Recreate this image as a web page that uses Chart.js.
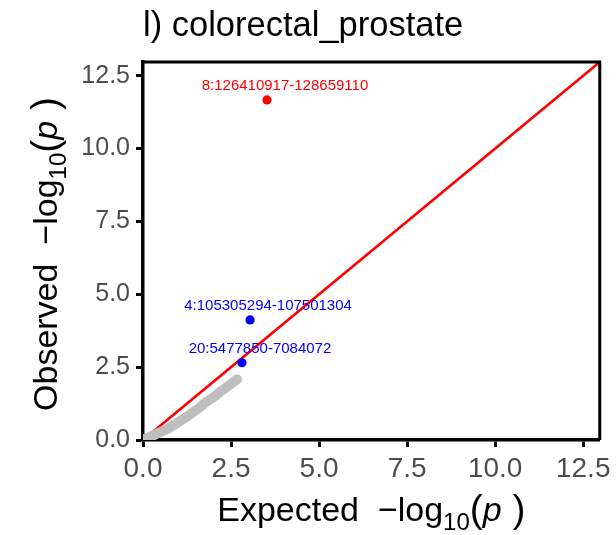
<!DOCTYPE html>
<html>
<head>
<meta charset="utf-8">
<script src="https://cdn.jsdelivr.net/npm/chart.js@4.4.1/dist/chart.umd.min.js"></script>
<style>
  html, body { margin: 0; padding: 0; background: #ffffff; }
  #wrap { width: 616px; height: 535px; }
</style>
</head>
<body>
<div id="wrap"><canvas id="c" width="616" height="535"></canvas></div>
<script>
// ---- data ----
const chartTitle = 'l) colorectal_prostate';
const tickValues = [0, 2.5, 5, 7.5, 10, 12.5];
const axisMax = 12.97;

// background (non-highlighted) points: expected vs observed -log10(p)
const qqExpected = [0.01, 0.03, 0.06, 0.10, 0.15, 0.20, 0.25, 0.30, 0.36, 0.42, 0.48, 0.55, 0.62, 0.70,
  0.78, 0.86, 0.94, 1.02, 1.10, 1.18, 1.26, 1.34, 1.42, 1.50, 1.58, 1.66, 1.74, 1.82, 1.90, 1.98,
  2.06, 2.14, 2.22, 2.30, 2.38, 2.46, 2.54, 2.62, 2.67];
const qqObserved = [0.01, 0.02, 0.04, 0.06, 0.08, 0.11, 0.13, 0.16, 0.19, 0.23, 0.26, 0.30, 0.34, 0.39,
  0.44, 0.50, 0.56, 0.63, 0.69, 0.75, 0.81, 0.88, 0.95, 1.02, 1.09, 1.17, 1.25, 1.32, 1.39, 1.45,
  1.52, 1.60, 1.68, 1.75, 1.82, 1.89, 1.96, 2.03, 2.08];

// highlighted regions
const hitLabels = ['8:126410917-128659110', '4:105305294-107501304', '20:5477850-7084072'];
const hitExpected = [3.52, 3.04, 2.81];
const hitObserved = [11.67, 4.12, 2.65];
const hitGenomeWide = [true, false, false];

// ---- styles ----
const FONT = "'Liberation Sans', Arial, sans-serif";
const RED = '#ff0000', BLUE = '#0000ff', GREY = '#bebebe';

const toXY = (xs, ys) => xs.map((x, i) => ({ x: x, y: ys[i] }));
const hitPts = toXY(hitExpected, hitObserved);
const redPts = hitPts.filter((p, i) => hitGenomeWide[i]);
const bluePts = hitPts.filter((p, i) => !hitGenomeWide[i]);

function drawMathLabel(ctx, prefix, size) {
  const parts = [
    { t: prefix + '\u2212log', f: size + 'px ' + FONT, dy: 0 },
    { t: '10', f: Math.round(size * 0.7) + 'px ' + FONT, dy: size * 0.27 },
    { t: '(', f: Math.round(size * 1.15) + 'px ' + FONT, dy: size * 0.02 },
    { t: 'p', f: 'italic ' + size + 'px ' + FONT, dy: 0 },
    { t: ' )', f: Math.round(size * 1.15) + 'px ' + FONT, dy: size * 0.02 }
  ];
  let total = 0;
  parts.forEach(p => { ctx.font = p.f; p.w = ctx.measureText(p.t).width; total += p.w; });
  let x = -total / 2;
  ctx.textAlign = 'left';
  ctx.textBaseline = 'alphabetic';
  parts.forEach(p => { ctx.font = p.f; ctx.fillText(p.t, x, p.dy); x += p.w; });
}

const decorPlugin = {
  id: 'decor',
  afterDraw(chart) {
    const ctx = chart.ctx, a = chart.chartArea;
    ctx.save();
    // panel frame (top / right)
    ctx.strokeStyle = '#000';
    ctx.lineWidth = 3;
    ctx.beginPath();
    ctx.moveTo(a.left, a.top); ctx.lineTo(a.right, a.top); ctx.lineTo(a.right, a.bottom);
    ctx.stroke();
    // title
    ctx.fillStyle = '#000';
    ctx.font = '34.5px ' + FONT;
    ctx.textAlign = 'left';
    ctx.textBaseline = 'alphabetic';
    ctx.fillText(chartTitle, a.left, 36);
    // x title
    ctx.save();
    ctx.translate((a.left + a.right) / 2, 521);
    drawMathLabel(ctx, 'Expected  ', 34);
    ctx.restore();
    // y title
    ctx.save();
    ctx.translate(57, (a.top + a.bottom) / 2 + 3);
    ctx.rotate(-Math.PI / 2);
    drawMathLabel(ctx, 'Observed  ', 34);
    ctx.restore();
    // point labels
    const xs = chart.scales.x, ys = chart.scales.y;
    ctx.font = '15px ' + FONT;
    ctx.textAlign = 'center';
    ctx.textBaseline = 'middle';
    hitLabels.forEach((lab, i) => {
      const px = xs.getPixelForValue(hitExpected[i]);
      const py = ys.getPixelForValue(hitObserved[i]);
      ctx.fillStyle = hitGenomeWide[i] ? RED : BLUE;
      ctx.fillText(lab, px + 18, py - 14);
    });
    ctx.restore();
  }
};

function axisCfg(fontSize, pad, fitFn) {
  return {
    type: 'linear', min: 0, max: axisMax,
    afterBuildTicks: s => { s.ticks = tickValues.map(v => ({ value: v })); },
    afterFit: fitFn,
    ticks: {
      color: '#4d4d4d',
      font: { family: FONT, size: fontSize },
      padding: pad,
      callback: v => Number(v).toFixed(1),
      maxRotation: 0, autoSkip: false
    },
    grid: { display: true, drawOnChartArea: false, drawTicks: true, tickLength: 7, tickWidth: 3, tickColor: '#000' },
    border: { display: true, color: '#000', width: 3.5 }
  };
}

new Chart(document.getElementById('c'), {
  type: 'scatter',
  data: {
    datasets: [
      { type: 'line', data: [{ x: 0, y: 0 }, { x: axisMax, y: axisMax }], borderColor: RED, borderWidth: 2.6,
        pointRadius: 0, fill: false, order: 3 },
      { data: toXY(qqExpected, qqObserved), backgroundColor: GREY, borderWidth: 0, pointRadius: 5, order: 2 },
      { data: redPts, backgroundColor: RED, borderWidth: 0, pointRadius: 4.6, order: 1 },
      { data: bluePts, backgroundColor: BLUE, borderWidth: 0, pointRadius: 4.6, order: 0 }
    ]
  },
  options: {
    responsive: false,
    animation: false,
    devicePixelRatio: 1,
    layout: { padding: { left: 0, right: 15, top: 62, bottom: 0 } },
    plugins: { legend: { display: false }, tooltip: { enabled: false }, title: { display: false } },
    scales: {
      x: axisCfg(28, 5, s => { s.height = 95; }),
      y: axisCfg(25, 6, s => { s.width = 143; })
    }
  },
  plugins: [decorPlugin]
});
</script>
</body>
</html>
